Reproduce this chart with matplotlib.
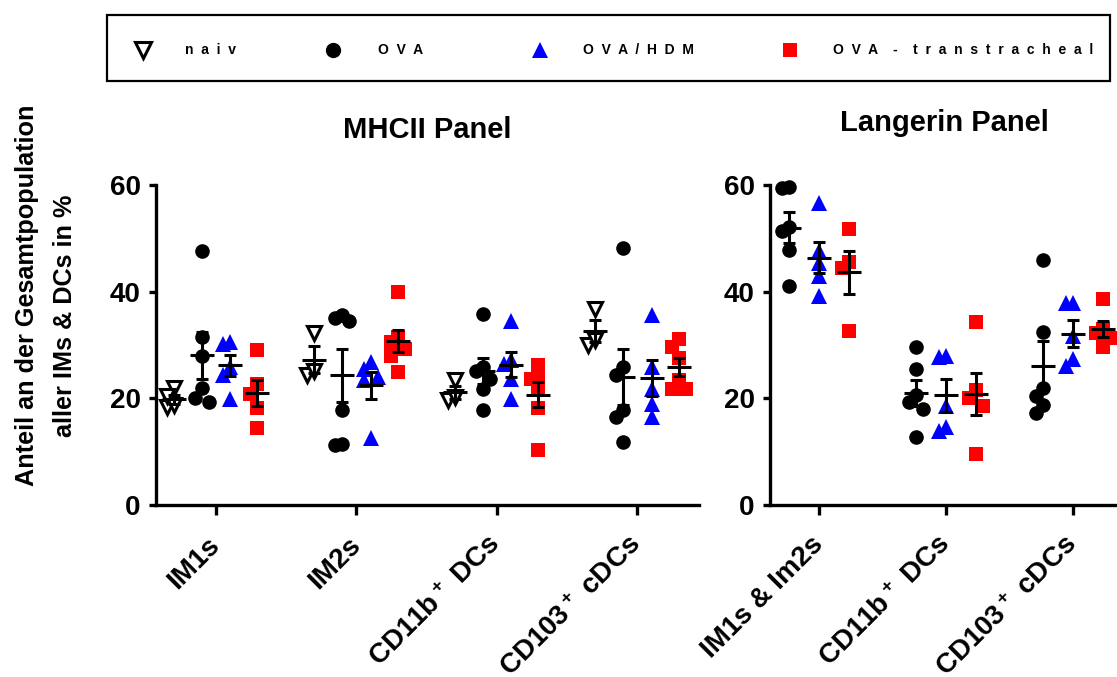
import numpy as np
import matplotlib
matplotlib.use("Agg")
import matplotlib.pyplot as plt
from matplotlib.lines import Line2D
from matplotlib.patches import Rectangle

plt.rcParams['font.family'] = ['Liberation Sans', 'DejaVu Sans']
plt.rcParams['font.weight'] = 'bold'
plt.rcParams['mathtext.fontset'] = 'custom'
plt.rcParams['mathtext.rm'] = 'Liberation Sans:bold'
plt.rcParams['mathtext.default'] = 'rm'

# Gruppen
groups = ['naiv', 'OVA', 'OVA/HDM', 'OVA - transtracheal']
legend_texts = ['n  a  i  v', 'O  V  A', 'O  V  A  /  H  D  M',
                'O  V  A    -    t  r  a  n  s  t  r  a  c  h  e  a  l']

# MHCII Panel
mhc_cats = ['IM1s', 'IM2s', r'CD11b$^+$ DCs', r'CD103$^+$ cDCs']
mhc_naiv = [[21.9, 18.3, 18.7, 20.5],
            [32.2, 24.3, 25.2],
            [23.5, 19.6, 20.2],
            [36.8, 30.0, 31.0]]
mhc_ova = [[47.7, 31.5, 28.0, 22.0, 19.3, 20.0],
           [35.7, 34.5, 35.0, 17.9, 11.2, 11.5],
           [35.9, 25.9, 25.2, 23.7, 21.8, 17.9],
           [48.1, 25.9, 24.3, 17.8, 16.5, 11.8]]
mhc_hdm = [[30.5, 30.2, 25.9, 24.3, 19.9],
           [26.8, 25.5, 24.0, 23.4, 12.5],
           [34.5, 27.1, 26.5, 23.7, 19.9],
           [35.6, 25.9, 21.8, 19.0, 16.5]]
mhc_trans = [[29.0, 22.7, 20.9, 18.1, 14.5],
             [39.9, 31.5, 30.5, 29.3, 28.0, 24.9],
             [26.2, 24.0, 23.7, 21.5, 18.1, 10.4],
             [31.2, 29.6, 27.5, 23.4, 21.8, 21.8]]

# Langerin Panel
lang_cats = ['IM1s & Im2s', r'CD11b$^+$ DCs', r'CD103$^+$ cDCs']
lang_ova = [[59.5, 59.7, 52.2, 51.3, 47.9, 41.1],
            [29.7, 25.5, 19.4, 20.7, 18.0, 12.8],
            [46.0, 32.4, 22.0, 20.5, 18.8, 17.2]]
lang_hdm = [[56.7, 47.7, 45.4, 43.0, 39.1],
            [28.0, 27.7, 18.5, 13.9, 14.7],
            [37.8, 37.8, 31.6, 26.0, 27.4]]
lang_trans = [[51.8, 45.5, 44.5, 32.7],
              [34.3, 21.5, 20.0, 18.5, 9.5],
              [38.6, 33.0, 32.2, 31.4, 29.7]]

yticks = [0, 20, 40, 60]

styles = {
    'naiv': dict(marker='v', mfc='white', mec='black', mew=2.2, ms=10.5),
    'OVA': dict(marker='o', mfc='black', mec='black', mew=0, ms=10.5),
    'OVA/HDM': dict(marker='^', mfc='#0000ff', mec='#0000ff', mew=0, ms=11.5),
    'OVA - transtracheal': dict(marker='s', mfc='#ff0000', mec='#ff0000', mew=0, ms=9.5),
}


def spread(ax, xc, vals, step=7, mindist=11):
    # Punkte leicht nebeneinander legen, wenn sie sich überlappen (wie GraphPad)
    trans = ax.transData
    ppu = trans.transform((xc + 1, 0))[0] - trans.transform((xc, 0))[0]
    ys = [trans.transform((xc, v))[1] for v in vals]
    order = np.argsort(ys)[::-1]
    placed = []
    xs = np.zeros(len(vals))
    for i in order:
        best, best_d = 0, -1
        for k in [0, -1, 1]:
            ox = k * step
            d = min([np.hypot(ox - px, ys[i] - py) for px, py in placed] + [999])
            if d >= mindist:
                best = ox
                break
            if d > best_d:
                best, best_d = ox, d
        placed.append((best, ys[i]))
        xs[i] = xc + best / ppu
    return xs


def draw_panel(ax, cats, series, offsets, xlim):
    ax.set_xlim(*xlim)
    ax.set_ylim(0, 60)
    for (name, data), off in zip(series, offsets):
        for ci, vals in enumerate(data):
            vals = np.array(vals)
            xc = ci + off
            xs = spread(ax, xc, vals)
            ax.plot(xs, vals, ls='none', zorder=2, clip_on=False, **styles[name])
            m = vals.mean()
            sem = vals.std(ddof=1) / np.sqrt(len(vals))
            ax.errorbar(xc, m, yerr=sem, fmt='none', ecolor='black',
                        elinewidth=2.2, capsize=4.3, capthick=2.2, zorder=3)
            ax.plot([xc], [m], marker='_', ms=17, mew=2.2, color='black', zorder=3)
    ax.set_xticks(range(len(cats)))
    ax.set_xticklabels(cats, rotation=45, ha='right', va='center',
                       rotation_mode='anchor', fontsize=20, fontweight='bold')
    ax.set_yticks(yticks)
    ax.set_yticklabels([str(t) for t in yticks], fontsize=20, fontweight='bold')
    for s in ['top', 'right']:
        ax.spines[s].set_visible(False)
    for s in ['left', 'bottom']:
        ax.spines[s].set_linewidth(2.4)
    ax.tick_params(axis='y', length=5, width=2.4, pad=6)
    ax.tick_params(axis='x', length=7, width=2.4, pad=19)


fig = plt.figure(figsize=(11.17, 6.77), dpi=100)
W, H = 1117, 677

ax1 = fig.add_axes([156 / W, 1 - 505 / H, (699 - 156) / W, 320 / H])
ax2 = fig.add_axes([770 / W, 1 - 505 / H, (1117 - 770) / W, 320 / H])

draw_panel(ax1, mhc_cats,
           [('naiv', mhc_naiv), ('OVA', mhc_ova), ('OVA/HDM', mhc_hdm),
            ('OVA - transtracheal', mhc_trans)],
           [-0.30, -0.10, 0.10, 0.295], (-0.427, 3.438))
draw_panel(ax2, lang_cats,
           [('OVA', lang_ova), ('OVA/HDM', lang_hdm),
            ('OVA - transtracheal', lang_trans)],
           [-0.236, 0.0, 0.236], (-0.386, 2.346))

fig.text(427 / W, 1 - 130 / H, 'MHCII Panel', ha='center', va='center',
         fontsize=21, fontweight='bold')
fig.text(944 / W, 1 - 123 / H, 'Langerin Panel', ha='center', va='center',
         fontsize=21, fontweight='bold')
fig.text(27 / W, 1 - 295 / H, 'Anteil an der Gesamtpopulation',
         rotation=90, ha='center', va='center', fontsize=18.2, fontweight='bold')
fig.text(65 / W, 1 - 316 / H, 'aller IMs & DCs in %',
         rotation=90, ha='center', va='center', fontsize=18.2, fontweight='bold')

# Legende oben
fig.add_artist(Rectangle((107 / W, 1 - 81 / H), (1110 - 107) / W, 66 / H,
                         transform=fig.transFigure, fill=False, lw=1.6, ec='black'))
marker_x = [143, 333, 540, 790]
text_x = [185, 378, 583, 833]
ly = 1 - 50 / H
for name, lab, mx, tx in zip(groups, legend_texts, marker_x, text_x):
    st = dict(styles[name])
    st['ms'] = st['ms'] + 0.5
    fig.add_artist(Line2D([mx / W], [ly], transform=fig.transFigure, ls='none', **st))
    fig.text(tx / W, ly, lab, ha='left', va='center', fontsize=10, fontweight='bold')

plt.savefig("out.png", dpi=100)
